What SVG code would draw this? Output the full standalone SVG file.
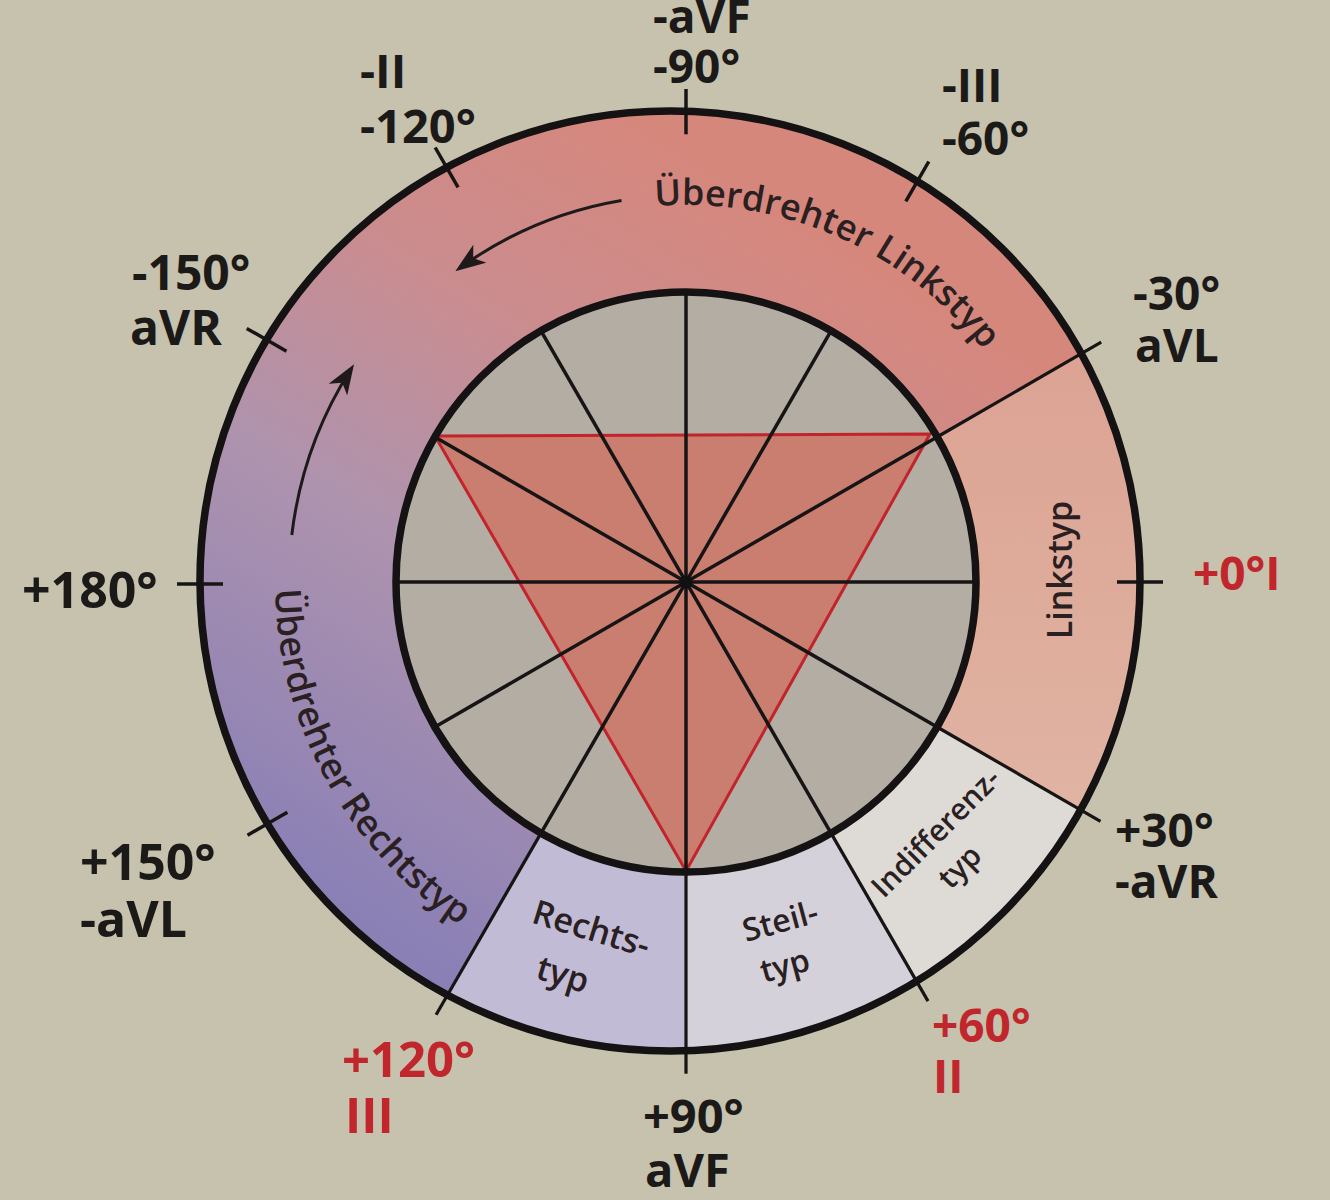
<svg xmlns="http://www.w3.org/2000/svg" width="1330" height="1200" viewBox="0 0 1330 1200">
<style>
.lbl{font-family:"Open Sans","Liberation Sans",sans-serif;font-weight:700;fill:#1c1a18}
.red{fill:#c0262c}
.ring{font-family:"Open Sans","Liberation Sans",sans-serif;font-weight:600;fill:#2a2022}
.spoke{stroke:#161414;stroke-width:3.5;fill:none}
.div{stroke:#161414;stroke-width:3.2;fill:none}
.tick{stroke:#161414;stroke-width:3.5;fill:none}
.circ{stroke:#141212;stroke-width:7.5;fill:none}
.arrow{stroke:#1e1a1a;stroke-width:3;fill:none;marker-end:url(#ah)}
</style>
<defs>
<linearGradient id="gBig" gradientUnits="userSpaceOnUse" x1="330" y1="900" x2="760" y2="190">
<stop offset="0" stop-color="#8a80b6"/>
<stop offset="0.42" stop-color="#ae93ae"/>
<stop offset="0.72" stop-color="#cb8c8e"/>
<stop offset="1" stop-color="#d6877c"/>
</linearGradient>
<linearGradient id="gLink" gradientUnits="userSpaceOnUse" x1="1000" y1="360" x2="1000" y2="800">
<stop offset="0" stop-color="#dca393"/>
<stop offset="1" stop-color="#e0b3a2"/>
</linearGradient>
<marker id="ah" viewBox="0 0 30 22" refX="24" refY="11" markerWidth="30" markerHeight="22" markerUnits="userSpaceOnUse" orient="auto">
<path d="M0,0 L30,11 L0,22 L8,11 Z" fill="#1e1a1a"/>
</marker>
<path id="tpTop" d="M655.1,206.3 A377,377 0 0 1 1040.3,453.1"/>
<path id="tpLeft" d="M275.1,589.2 A411,411 0 0 0 545.4,968.2"/>
</defs>

<rect id="background" x="0" y="0" width="1330" height="1200" fill="#c6c2ad"/>

<g id="ring">
<circle id="outer-disk" cx="670" cy="581" r="470" fill="url(#gBig)"/>
<path id="sector-linkstyp" d="M937.1,437 L1081.3,353.7 A470,470 0 0 1 1080.5,809.8 L937.1,727 A290,290 0 0 0 937.1,437 Z" fill="url(#gLink)"/>
<path id="sector-indifferenztyp" d="M937.1,727 L1080.5,809.8 A470,470 0 0 1 916.5,981 L831,833.1 A290,290 0 0 0 937.1,727 Z" fill="#dedad6"/>
<path id="sector-steiltyp" d="M831,833.1 L916.5,981 A470,470 0 0 1 686,1050.7 L686,872 A290,290 0 0 0 831,833.1 Z" fill="#d5d1da"/>
<path id="sector-rechtstyp" d="M686,872 L686,1050.7 A470,470 0 0 1 447.6,994.9 L541,833.1 A290,290 0 0 0 686,872 Z" fill="#c1bbd6"/>
</g>

<g id="inner">
<circle id="inner-disk" cx="686" cy="582" r="290" fill="#b3ada4"/>
<polygon id="triangle" points="435,436 930,434 686,871" fill="#c97e6f" stroke="#c3232b" stroke-width="3" stroke-linejoin="miter"/>
</g>

<g id="connectors">
<g id="spokes">
<line class="spoke" x1="396" y1="582" x2="976" y2="582"/>
<line class="spoke" x1="434.9" y1="437" x2="937.1" y2="727"/>
<line class="spoke" x1="541" y1="330.9" x2="831" y2="833.1"/>
<line class="spoke" x1="686" y1="292" x2="686" y2="872"/>
<line class="spoke" x1="831" y1="330.9" x2="541" y2="833.1"/>
<line class="spoke" x1="937.1" y1="437" x2="434.9" y2="727"/>
</g>
<g id="dividers">
<line class="div" x1="937.1" y1="437" x2="1101.2" y2="342.2"/>
<line class="div" x1="937.1" y1="727" x2="1100.5" y2="821.3"/>
<line class="div" x1="831" y1="833.1" x2="928" y2="1001.1"/>
<line class="div" x1="686" y1="872" x2="686" y2="1073.7"/>
<line class="div" x1="541" y1="833.1" x2="436.1" y2="1014.8"/>
</g>
<g id="ticks">
<line class="tick" x1="1117" y1="582" x2="1163" y2="582"/>
<line class="tick" x1="905.8" y1="201.4" x2="928.8" y2="161.5"/>
<line class="tick" x1="686" y1="134.3" x2="686" y2="89"/>
<line class="tick" x1="458.1" y1="187.4" x2="435.2" y2="147.5"/>
<line class="tick" x1="286.5" y1="351.3" x2="246.7" y2="328.4"/>
<line class="tick" x1="223" y1="584" x2="177" y2="584"/>
<line class="tick" x1="287.4" y1="812.2" x2="247.5" y2="835.2"/>
</g>
<g id="arrows">
<path class="arrow" d="M621.5,200.4 A387,387 0 0 0 460.2,267.7"/>
<path class="arrow" d="M291.8,535 A397,397 0 0 1 350.8,369.3"/>
</g>
</g>

<g id="outlines">
<circle class="circ" cx="686" cy="582" r="290"/>
<circle class="circ" cx="670" cy="581" r="470"/>
<circle id="hub" cx="686" cy="582" r="6.5" fill="#111"/>
</g>

<g id="ring-labels">
<text class="ring" font-size="36"><textPath href="#tpTop">Überdrehter Linkstyp</textPath></text>
<text class="ring" font-size="36"><textPath href="#tpLeft">Überdrehter Rechtstyp</textPath></text>
<text class="ring" font-size="34" text-anchor="middle" transform="translate(1072,570) rotate(-90)" x="0" y="0">Linkstyp</text>
<g id="label-indifferenztyp" transform="translate(943,840) rotate(-45)">
<text class="ring" font-size="30" text-anchor="middle" x="0" y="0">Indifferenz-</text>
<text class="ring" font-size="30" text-anchor="middle" x="-7" y="41">typ</text>
</g>
<g id="label-steiltyp" transform="translate(783,932) rotate(-15)">
<text class="ring" font-size="32" text-anchor="middle" x="0" y="0">Steil-</text>
<text class="ring" font-size="32" text-anchor="middle" x="-7" y="44">typ</text>
</g>
<g id="label-rechtstyp" transform="translate(588,940) rotate(17)">
<text class="ring" font-size="34" text-anchor="middle" x="0" y="0">Rechts-</text>
<text class="ring" font-size="34" text-anchor="middle" x="-14" y="52">typ</text>
</g>
</g>

<g id="axis-labels">
<g id="lbl-m90"><text class="lbl" font-size="46" x="653" y="33">-aVF</text><text class="lbl" font-size="46" x="653" y="83">-90°</text></g>
<g id="lbl-m120"><text class="lbl" font-size="47" x="360" y="88">-II</text><text class="lbl" font-size="47" x="360" y="143">-120°</text></g>
<g id="lbl-m60"><text class="lbl" font-size="46" x="942" y="102">-III</text><text class="lbl" font-size="46" x="942" y="155">-60°</text></g>
<g id="lbl-m30"><text class="lbl" font-size="46" x="1133" y="310">-30°</text><text class="lbl" font-size="46" x="1135" y="362">aVL</text></g>
<g id="lbl-0"><text class="lbl red" font-size="46" x="1193" y="590">+0°I</text></g>
<g id="lbl-p30"><text class="lbl" font-size="46" x="1115" y="847">+30°</text><text class="lbl" font-size="46" x="1115" y="898">-aVR</text></g>
<g id="lbl-p60"><text class="lbl red" font-size="46" x="932" y="1042">+60°</text><text class="lbl red" font-size="46" x="933" y="1093">II</text></g>
<g id="lbl-p90"><text class="lbl" font-size="47" x="643" y="1133">+90°</text><text class="lbl" font-size="47" x="645" y="1187">aVF</text></g>
<g id="lbl-p120"><text class="lbl red" font-size="49" x="342" y="1077">+120°</text><text class="lbl red" font-size="49" x="345" y="1133">III</text></g>
<g id="lbl-p150"><text class="lbl" font-size="50" x="80" y="880">+150°</text><text class="lbl" font-size="50" x="80" y="937">-aVL</text></g>
<g id="lbl-180"><text class="lbl" font-size="50" x="22" y="608">+180°</text></g>
<g id="lbl-m150"><text class="lbl" font-size="48" x="132" y="290">-150°</text><text class="lbl" font-size="48" x="130" y="345">aVR</text></g>
</g>
</svg>
